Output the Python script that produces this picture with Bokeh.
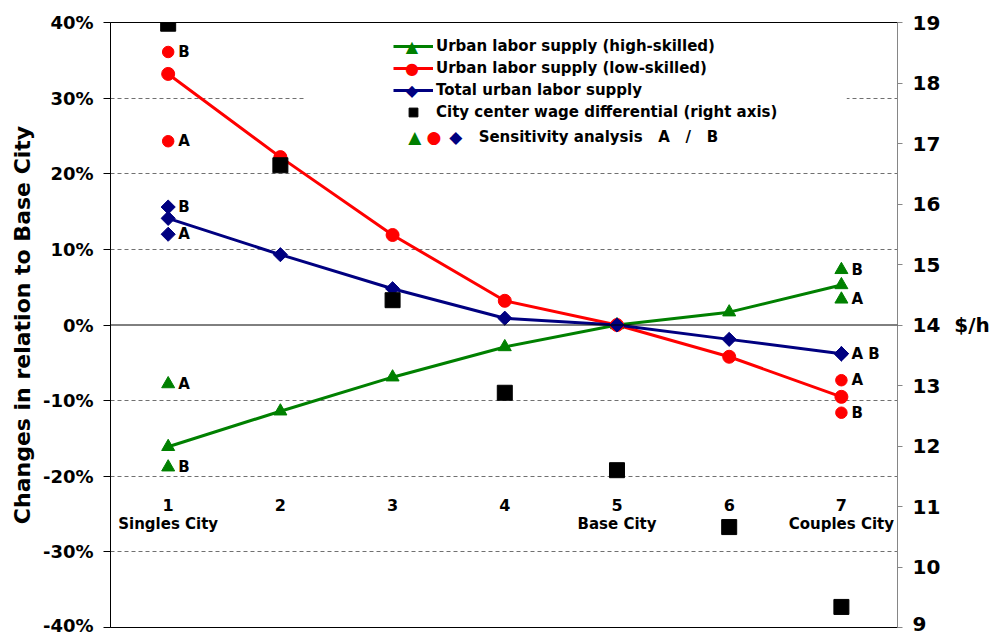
import math
from bokeh.plotting import figure
from bokeh.models import (Range1d, LinearAxis, FixedTicker, PrintfTickFormatter, Span,
                          Legend, LegendItem, BoxAnnotation, Label, ColumnDataSource)
from bokeh.core.properties import value
from bokeh.embed import file_html
from bokeh.resources import INLINE

# ---------------- data ----------------
cities = [1, 2, 3, 4, 5, 6, 7]
city_numbers = ["1", "2", "3", "4", "5", "6", "7"]
city_names = ["Singles City", "", "", "", "Base City", "", "Couples City"]

high_skilled = [-16.1, -11.4, -6.9, -2.9, 0.0, 1.7, 5.3]      # % change
low_skilled = [33.2, 22.2, 11.9, 3.2, 0.0, -4.2, -9.5]        # % change
total_supply = [14.1, 9.3, 4.8, 0.9, 0.0, -1.9, -3.8]         # % change
wage_diff = [18.98, 16.64, 14.41, 12.88, 11.6, 10.66, 9.34]   # $/h (right axis)

sens_x = [1, 7]
high_A = [-7.8, 3.4]
high_B = [-18.8, 7.3]
low_A = [24.3, -7.3]
low_B = [36.1, -11.6]
total_A = [12.0, -3.8]
total_B = [15.6, -3.8]

left_ticks = [-40, -30, -20, -10, 0, 10, 20, 30, 40]
right_ticks = [9, 10, 11, 12, 13, 14, 15, 16, 17, 18, 19]

GREEN = "#008000"
RED = "#FF0000"
NAVY = "#000080"
FONT = "DejaVu Sans"

# ---------------- figure ----------------
p = figure(width=992, height=635, x_range=Range1d(0.486, 7.5), y_range=Range1d(-40, 40),
           output_backend="svg", toolbar_location=None, x_axis_location=None,
           min_border_left=110, min_border_right=91, min_border_top=22, min_border_bottom=8,
           background_fill_color="white", border_fill_color="white")
p.outline_line_color = "black"
p.outline_line_width = 1

p.xgrid.visible = False
p.ygrid.ticker = FixedTicker(ticks=[t for t in left_ticks if t not in (-40, 0, 40)])
p.ygrid.grid_line_color = "#707070"
p.ygrid.grid_line_dash = "4 3"
p.ygrid.grid_line_width = 1

# left axis
ya = p.yaxis[0]
ya.ticker = FixedTicker(ticks=left_ticks)
ya.formatter = PrintfTickFormatter(format="%d%%")
ya.axis_line_color = "black"
ya.major_tick_line_color = "black"
ya.major_tick_out = 7
ya.major_tick_in = 0
ya.minor_tick_line_color = None
ya.major_label_standoff = 10
ya.major_label_text_font = FONT
ya.major_label_text_font_style = "bold"
ya.major_label_text_font_size = "18px"
ya.major_label_text_color = "black"
ya.axis_label = "Changes in relation to Base City"
ya.axis_label_text_font = FONT
ya.axis_label_text_font_style = "bold"
ya.axis_label_text_font_size = "22px"
ya.axis_label_text_color = "black"
ya.axis_label_standoff = 5

# right axis
p.extra_y_ranges = {"wage": Range1d(9, 19)}
ra = LinearAxis(y_range_name="wage", ticker=FixedTicker(ticks=right_ticks),
                major_label_overrides={14: "14\u00a0\u00a0$/h"})
ra.axis_line_color = "#868686"
ra.major_tick_line_color = "#868686"
ra.major_tick_out = 5
ra.major_tick_in = 0
ra.minor_tick_line_color = None
ra.major_label_standoff = 10
ra.major_label_text_font = FONT
ra.major_label_text_font_style = "bold"
ra.major_label_text_font_size = "20px"
ra.major_label_text_color = "black"
p.add_layout(ra, "right")

# zero line
p.add_layout(Span(location=0, dimension="width", line_color="black", line_width=1))

# white box behind legend (hides the 30% gridline as in the original)
p.add_layout(BoxAnnotation(left=2.215, right=7.048, top=38.9, bottom=22.6,
                           fill_color="white", fill_alpha=1, line_alpha=0, level="underlay"))

# ---------------- series ----------------
src = ColumnDataSource(dict(x=cities, hs=high_skilled, ls=low_skilled,
                            tot=total_supply, wage=wage_diff))

r_hs_line = p.line("x", "hs", source=src, line_color=GREEN, line_width=3)
r_ls_line = p.line("x", "ls", source=src, line_color=RED, line_width=3)
r_tot_line = p.line("x", "tot", source=src, line_color=NAVY, line_width=3)

r_hs_pts = p.scatter("x", "hs", source=src, marker="triangle", size=13,
                     fill_color=GREEN, line_color=GREEN)
r_ls_pts = p.scatter("x", "ls", source=src, marker="circle", size=13,
                     fill_color=RED, line_color=RED)
r_tot_pts = p.scatter("x", "tot", source=src, marker="square", angle=math.pi / 4, size=10,
                      fill_color=NAVY, line_color=NAVY)

# sensitivity analysis points
sx2 = list(sens_x) + list(sens_x)
s_hs = p.scatter(sx2, list(high_A) + list(high_B), marker="triangle", size=13,
                 fill_color=GREEN, line_color=GREEN)
s_ls = p.scatter(sx2, list(low_A) + list(low_B), marker="circle", size=11.5,
                 fill_color=RED, line_color=RED)
s_tot = p.scatter(sx2, list(total_A) + list(total_B), marker="square", angle=math.pi / 4, size=10,
                  fill_color=NAVY, line_color=NAVY)

lab_x, lab_y, lab_t = [], [], []
for a_vals, b_vals in ((high_A, high_B), (low_A, low_B), (total_A, total_B)):
    for i, xv in enumerate(sens_x):
        if a_vals[i] == b_vals[i]:
            lab_x.append(xv); lab_y.append(a_vals[i]); lab_t.append("A B")
        else:
            lab_x.append(xv); lab_y.append(a_vals[i]); lab_t.append("A")
            lab_x.append(xv); lab_y.append(b_vals[i]); lab_t.append("B")
p.text(lab_x, lab_y, text=lab_t, x_offset=10, text_baseline="middle", text_align="left",
       text_font=value(FONT), text_font_style="bold", text_font_size="15px", text_color="black")

# wage differential (right axis), drawn on top
r_wage = p.scatter("x", "wage", source=src, y_range_name="wage", marker="square", size=15,
                   fill_color="black", line_color="black")

# category labels inside the plot
p.text(cities, [-23.8] * len(cities), text=city_numbers, text_align="center",
       text_baseline="middle", text_font=value(FONT), text_font_style="bold",
       text_font_size="16px", text_color="black")
p.text(cities, [-26.3] * len(cities), text=city_names, text_align="center",
       text_baseline="middle", text_font=value(FONT), text_font_style="bold",
       text_font_size="15px", text_color="black")

# ---------------- legend ----------------
leg1 = Legend(items=[
    LegendItem(label="Urban labor supply (high-skilled)", renderers=[r_hs_line]),
    LegendItem(label="Urban labor supply (low-skilled)", renderers=[r_ls_line]),
    LegendItem(label="Total urban labor supply", renderers=[r_tot_line]),
    LegendItem(label="City center wage differential (right axis)", renderers=[r_wage]),
], location=(283, 504), orientation="vertical", glyph_width=40, glyph_height=22, spacing=0,
    label_standoff=3, padding=0, margin=0, border_line_alpha=0, background_fill_alpha=0,
    label_text_font=FONT, label_text_font_style="bold", label_text_font_size="15px",
    label_text_color="black", label_height=20)
p.add_layout(leg1)

# marker symbols on the legend's line swatches
for ly, sym, col in ((36.83, "\u25b2", GREEN), (33.92, "\u25cf", RED), (31.0, "\u25c6", NAVY)):
    p.add_layout(Label(x=3.173, y=ly, text=sym, text_color=col, text_font=FONT,
                       text_font_size="16px", text_align="center", text_baseline="middle"))

# sensitivity-analysis legend row
for sx_, sym, col in ((3.199, "\u25b2", GREEN), (3.368, "\u25cf", RED), (3.563, "\u25c6", NAVY)):
    p.add_layout(Label(x=sx_, y=24.8, text=sym, text_color=col, text_font=FONT,
                       text_font_size="17px", text_align="center", text_baseline="middle"))
p.add_layout(Label(x=3.767, y=24.8,
                   text="Sensitivity analysis\u00a0\u00a0\u00a0A\u00a0\u00a0\u00a0/\u00a0\u00a0\u00a0B",
                   text_font=FONT, text_font_style="bold", text_font_size="15px",
                   text_baseline="middle", text_color="black"))

open("out.html", "w").write(file_html(p, INLINE))
